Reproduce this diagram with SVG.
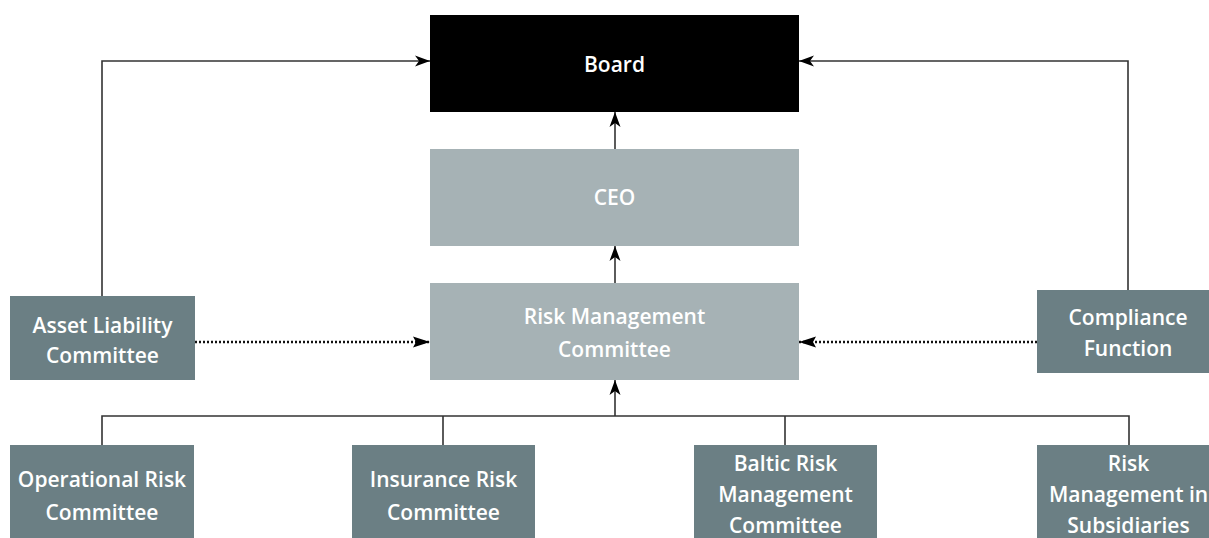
<svg xmlns="http://www.w3.org/2000/svg" width="1209" height="538" viewBox="0 0 1209 538">
  <defs>
    <marker id="arr" markerUnits="userSpaceOnUse" markerWidth="16" markerHeight="12" refX="15" refY="6" orient="auto">
      <path d="M0,0.5 L15,6 L0,11.5 L4,6 Z" fill="#000"/>
    </marker>
    <marker id="arrd" markerUnits="userSpaceOnUse" markerWidth="18" markerHeight="12" refX="17" refY="6" orient="auto">
      <path d="M0,0.5 L17,6 L0,11.5 L3,6 Z" fill="#000"/>
    </marker>
    <style>
      .light { fill: #a6b2b5; }
      .dark { fill: #6b7f84; }
      .black { fill: #000; }
      .t { font-family: "Open Sans", "Liberation Sans", sans-serif; font-weight: 600; font-size: 21px; fill: #fff; text-anchor: middle; }
      .ln { fill: none; stroke: #333; stroke-width: 1.6; }
      .dot { fill: none; stroke: #111; stroke-width: 2.6; stroke-dasharray: 2 2; }
    </style>
  </defs>
  <rect width="1209" height="538" fill="#fff"/>

  <g id="connectors">
    <path class="ln" d="M615,149 V112" marker-end="url(#arr)"/>
    <path class="ln" d="M615,283 V246" marker-end="url(#arr)"/>
    <path class="ln" d="M102,296 V61 H430" marker-end="url(#arr)"/>
    <path class="ln" d="M1128,290 V61 H799" marker-end="url(#arr)"/>
    <path class="dot" d="M195,342 H430" marker-end="url(#arrd)"/>
    <path class="dot" d="M1037,342 H799" marker-end="url(#arrd)"/>
    <path class="ln" d="M102,445 V416 H1129 V445"/>
    <path class="ln" d="M443,445 V416"/>
    <path class="ln" d="M785,445 V416"/>
    <path class="ln" d="M615,416 V380" marker-end="url(#arr)"/>
  </g>

  <g id="board">
    <rect class="black" x="430" y="15" width="369" height="97"/>
    <text class="t" x="614.5" y="72">Board</text>
  </g>
  <g id="ceo">
    <rect class="light" x="430" y="149" width="369" height="97"/>
    <text class="t" x="614.5" y="205">CEO</text>
  </g>
  <g id="rmc">
    <rect class="light" x="430" y="283" width="369" height="97"/>
    <text class="t" x="614.5" y="324">Risk Management</text>
    <text class="t" x="614.5" y="357">Committee</text>
  </g>
  <g id="alc">
    <rect class="dark" x="10" y="296" width="185" height="84"/>
    <text class="t" x="102.5" y="333">Asset Liability</text>
    <text class="t" x="102.5" y="363">Committee</text>
  </g>
  <g id="compliance">
    <rect class="dark" x="1037" y="290" width="183" height="83"/>
    <text class="t" x="1128" y="325">Compliance</text>
    <text class="t" x="1128" y="356">Function</text>
  </g>
  <g id="operational">
    <rect class="dark" x="10" y="445" width="184" height="100"/>
    <text class="t" x="102" y="487">Operational Risk</text>
    <text class="t" x="102" y="520">Committee</text>
  </g>
  <g id="insurance">
    <rect class="dark" x="352" y="445" width="183" height="100"/>
    <text class="t" x="443.5" y="487">Insurance Risk</text>
    <text class="t" x="443.5" y="520">Committee</text>
  </g>
  <g id="baltic">
    <rect class="dark" x="694" y="445" width="183" height="100"/>
    <text class="t" x="785.5" y="471">Baltic Risk</text>
    <text class="t" x="785.5" y="502">Management</text>
    <text class="t" x="785.5" y="533">Committee</text>
  </g>
  <g id="subsidiaries">
    <rect class="dark" x="1037" y="445" width="183" height="100"/>
    <text class="t" x="1128.5" y="471">Risk</text>
    <text class="t" x="1128.5" y="502">Management in</text>
    <text class="t" x="1128.5" y="533">Subsidiaries</text>
  </g>
</svg>
